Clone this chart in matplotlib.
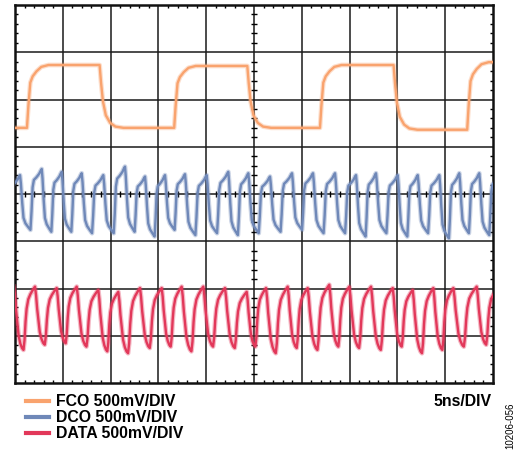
import numpy as np
import matplotlib.pyplot as plt

# ---------------------------------------------------------------
# values: x in divisions (0..10),
# y in divisions (-4..4, centre line = 0)
# ---------------------------------------------------------------

# FCO - frame clock, square wave
fco_rise = [0.25, 3.33, 6.38, 9.46]
fco_fall = [1.77, 4.86, 7.92]
fco_high = [2.73, 2.71, 2.73, 2.79]
fco_low = [1.40, 1.40, 1.40, 1.36]
# edge shape: time after edge (div), fraction of the swing
rise_dt = [0.0, 0.03, 0.07, 0.12, 0.20, 0.30, 0.45]
rise_fr = [0.0, 0.35, 0.72, 0.82, 0.90, 0.97, 1.0]
fall_dt = [0.0, 0.03, 0.07, 0.13, 0.22, 0.33, 0.50]
fall_fr = [1.0, 0.72, 0.42, 0.20, 0.08, 0.02, 0.0]

# DCO - data clock, peak positions / peak and trough levels per cycle
dco_peak_x = [-0.33, 0.105, 0.559, 0.977, 1.395, 1.847, 2.301, 2.720, 3.138,
              3.556, 4.010, 4.462, 4.881, 5.335, 5.795, 6.234, 6.695, 7.134,
              7.552, 8.006, 8.425, 8.877, 9.295, 9.713, 10.146]
dco_peak_y = [0.40, 0.40, 0.53, 0.47, 0.44, 0.40, 0.58, 0.37, 0.40, 0.42,
              0.40, 0.47, 0.44, 0.37, 0.44, 0.44, 0.44, 0.40, 0.44, 0.40,
              0.40, 0.40, 0.44, 0.44, 0.44]
dco_trough_y = [-0.80, -0.76, -0.80, -0.80, -0.83, -0.83, -0.80, -0.90,
                -0.76, -0.87, -0.83, -0.87, -0.83, -0.80, -0.76, -0.83,
                -0.83, -0.90, -0.83, -0.90, -0.83, -0.94, -0.83, -0.87]
# one DCO cycle, peak to peak: phase, fraction of swing
dco_ph = [0.0, 0.04, 0.10, 0.16, 0.25, 0.38, 0.48, 0.53, 0.58, 0.64, 0.75,
          0.88, 0.95]
dco_fr = [1.0, 0.85, 0.50, 0.22, 0.12, 0.05, 0.0, 0.30, 0.70, 0.82, 0.86,
          0.92, 0.97]

# DATA - output bits
data_peak_x = [-0.02, 0.418, 0.872, 1.291, 1.743, 2.161, 2.615, 3.069, 3.487,
               3.939, 4.393, 4.847, 5.251, 5.705, 6.123, 6.575, 6.994, 7.448,
               7.902, 8.320, 8.751, 9.170, 9.659, 10.10]
data_peak_y = [-1.96, -1.96, -1.99, -1.96, -2.03, -2.07, -1.99, -1.99, -1.96,
               -1.96, -1.99, -2.07, -1.99, -1.96, -1.99, -1.92, -1.96, -1.96,
               -1.99, -2.03, -1.99, -1.99, -1.96, -1.99]
data_trough_y = [-3.30, -3.19, -3.16, -3.23, -3.33, -3.37, -3.26, -3.23,
                 -3.33, -3.23, -3.26, -3.23, -3.37, -3.26, -3.30, -3.23,
                 -3.26, -3.30, -3.23, -3.37, -3.30, -3.23, -3.19]
data_ph = [0.0, 0.05, 0.10, 0.16, 0.22, 0.30, 0.38, 0.45, 0.50, 0.55, 0.60,
           0.68, 0.78, 0.90]
data_fr = [1.0, 0.85, 0.62, 0.42, 0.22, 0.10, 0.03, 0.0, 0.15, 0.45, 0.65,
           0.80, 0.88, 0.95]

labels = ['FCO 500mV/DIV', 'DCO 500mV/DIV', 'DATA 500mV/DIV']
colors = ['#F9A36E', '#6F88B8', '#E2385A']


def square_trace(rises, falls, highs, lows):
    """Step trace built from the edge times and the settled levels."""
    xs, ys = [0.0], [lows[0]]
    events = sorted([(t, 0, i) for i, t in enumerate(rises)] +
                    [(t, 1, i) for i, t in enumerate(falls)])
    for t, kind, i in events:
        if kind == 0:
            lo, hi = lows[i], highs[i]
            for dt, fr in zip(rise_dt, rise_fr):
                xs.append(t + dt)
                ys.append(lo + fr * (hi - lo))
        else:
            hi, lo = highs[i], lows[i + 1]
            for dt, fr in zip(fall_dt, fall_fr):
                xs.append(t + dt)
                ys.append(lo + fr * (hi - lo))
    xs.append(10.5)
    ys.append(ys[-1])
    return xs, ys


def clock_trace(peak_x, peak_y, trough_y, ph, fr):
    """Peak-to-peak cycles, each one drawn with the cycle shape ph/fr."""
    tr_ph = ph[fr.index(0.0)]
    xs, ys = [], []
    for k in range(len(peak_x) - 1):
        T = peak_x[k + 1] - peak_x[k]
        for p, f in zip(ph, fr):
            top = peak_y[k] if p <= tr_ph else peak_y[k + 1]
            xs.append(peak_x[k] + p * T)
            ys.append(trough_y[k] + f * (top - trough_y[k]))
    xs.append(peak_x[-1])
    ys.append(peak_y[-1])
    return xs, ys


traces = [square_trace(fco_rise, fco_fall, fco_high, fco_low),
          clock_trace(dco_peak_x, dco_peak_y, dco_trough_y, dco_ph, dco_fr),
          clock_trace(data_peak_x, data_peak_y, data_trough_y, data_ph, data_fr)]

fig = plt.figure(figsize=(5.16, 4.57), dpi=100)
ax = fig.add_axes([15 / 516, 1 - 383 / 457, 478 / 516, 378 / 457])

# graticule
for gx in range(1, 10):
    ax.axvline(gx, color='#1a1a1a', lw=1.1, zorder=1)
for gy in range(-3, 4):
    ax.axhline(gy, color='#1a1a1a', lw=1.1, zorder=1)

# small ticks every 0.2 div: inside the frame and across the centre lines
minor_x = [i / 5 for i in range(1, 50) if i % 5]
minor_y = [i / 5 - 4 for i in range(1, 40) if i % 5]
tk = 0.06
ax.vlines(minor_x, 4 - tk, 4, color='k', lw=1.0)
ax.vlines(minor_x, -4, -4 + tk, color='k', lw=1.0)
ax.vlines(minor_x, -tk, tk, color='k', lw=1.0)
ax.hlines(minor_y, 0, tk, color='k', lw=1.0)
ax.hlines(minor_y, 10 - tk, 10, color='k', lw=1.0)
ax.hlines(minor_y, 5 - tk, 5 + tk, color='k', lw=1.0)

for (xs, ys), c in zip(traces, colors):
    ax.plot(xs, ys, color=c, lw=3.4, alpha=0.35, solid_joinstyle='round', zorder=3)
    ax.plot(xs, ys, color=c, lw=1.7, solid_joinstyle='round', zorder=4)

ax.set_xlim(0, 10)
ax.set_ylim(-4, 4)
ax.set_xticks([])
ax.set_yticks([])
for s in ax.spines.values():
    s.set_linewidth(1.8)
    s.set_color('#111111')

# legend / labels under the screen
font = {'family': 'Liberation Sans', 'weight': 'bold', 'size': 11.4}
for i, (lab, c) in enumerate(zip(labels, colors)):
    y = 1 - (401 + 16 * i) / 457
    fig.add_artist(plt.Line2D([26 / 516, 49 / 516], [y, y], color=c, lw=3))
    fig.text(56 / 516, y, lab, va='center', ha='left', **font)
fig.text(492 / 516, 1 - 401 / 457, '5ns/DIV', va='center', ha='right', **font)
fig.text(510 / 516, 1 - 426 / 457, '10206-056', rotation=90, va='center', ha='center',
         family='Liberation Sans', size=7)

fig.savefig('out.png', dpi=100)
